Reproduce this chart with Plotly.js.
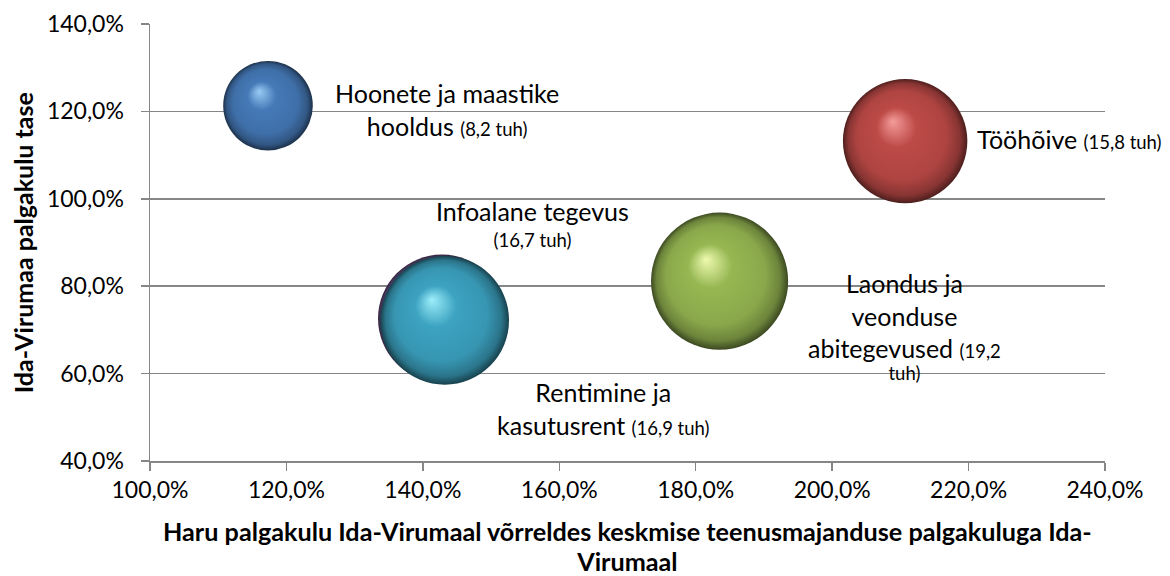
<!DOCTYPE html>
<html><head><meta charset="utf-8">
<script src="https://cdn.plot.ly/plotly-3.0.1.min.js"></script>
<style>html,body{margin:0;padding:0;background:#fff}#chart{width:1170px;height:576px}</style>
</head><body><div id="chart"></div>
<script>
// ---- data ----
const categories = ['Hoonete ja maastike hooldus', 'Tööhõive', 'Laondus ja veonduse abitegevused', 'Infoalane tegevus', 'Rentimine ja kasutusrent'];
const xValues = [117.3, 210.7, 183.5, 142.8, 143.2];   // % vs service-sector average wage cost
const yValues = [121.3, 113.2, 81.15, 72.6, 72.2];     // Ida-Virumaa wage cost level, %
const sizeValues = [8.2, 15.8, 19.2, 16.7, 16.9];      // thousands of employees (tuh)
const labelTemplates = [
  'Hoonete ja maastike<br>hooldus {s}',
  'Tööhõive {s}',
  'Laondus ja<br>veonduse<br>abitegevused {s}',
  'Infoalane tegevus<br>{s}',
  'Rentimine ja<br>kasutusrent {s}'
];
const sizeWrap = [false, false, true, false, false];
const yTitle = 'Ida-Virumaa palgakulu tase';
const xTitleLines = ['Haru palgakulu Ida-Virumaal võrreldes keskmise teenusmajanduse palgakuluga Ida-', 'Virumaal'];

// ---- styles ----
const baseColors = ['#4579B7', '#BD4A47', '#96B752', '#7D5FA0', '#3CA3C1'];
const highlightColors = ['#9ACBF5', '#F49C9A', '#EEFAB0', '#CDB6EC', '#9DEEFA'];
const labelOffsets = [[179, -4], [164, 2.5], [184.5, -50], [91, 92], [158.5, -88.5]];
const lastLineShift = [0, 0, -10.5, -7, 0];
const FONT = 'Lato, "Open Sans", sans-serif';
const gridCol = '#868686';
const BIG = 25, SMALL = 18.5, LABEL_BASE = 25;

function fmt(v) { return v.toFixed(1).replace('.', ','); }
function sizeLabel(i) {
  const n = fmt(sizeValues[i]);
  const sp = t => '<span style="font-size:' + SMALL + 'px">' + t + '</span>';
  if (sizeWrap[i]) return sp('(' + n) + '<br>' + sp('tuh)');
  return sp('(' + n + ' tuh)');
}
function labelText(i) {
  const parts = labelTemplates[i].split('{s}');
  const wrapBig = s => s.split('<br>').map(p => p ? '<span style="font-size:' + BIG + 'px">' + p + '</span>' : p).join('<br>');
  return wrapBig(parts[0]) + sizeLabel(i) + (parts[1] ? wrapBig(parts[1]) : '');
}

const trace = {
  type: 'scatter', mode: 'markers',
  x: xValues, y: yValues, text: categories,
  marker: {
    size: sizeValues, sizemode: 'area', sizeref: 1 / (2 * 15.65 * 15.65), opacity: 1,
    color: baseColors, line: {width: 0},
    gradient: {type: 'radial', color: highlightColors}
  },
  cliponaxis: false, hoverinfo: 'text'
};

const annotations = categories.map((c, i) => ({
  x: xValues[i], y: yValues[i], xref: 'x', yref: 'y',
  text: labelText(i), showarrow: false, align: 'center',
  xanchor: 'center', yanchor: 'middle',
  xshift: labelOffsets[i][0], yshift: labelOffsets[i][1],
  font: {family: FONT, size: LABEL_BASE, color: '#000'}
}));
// axis titles
annotations.push({
  xref: 'paper', yref: 'paper', x: 0.5, y: 0, xanchor: 'center', yanchor: 'middle',
  xshift: 0, yshift: -84.5, showarrow: false, align: 'center',
  text: xTitleLines.map(t => '<span style="font-size:25.2px">' + t + '</span>').join('<br>'),
  font: {family: FONT, size: 23.2, color: '#000', weight: 'bold'}
});
annotations.push({
  xref: 'paper', yref: 'paper', x: 0, y: 0.5, xanchor: 'center', yanchor: 'middle',
  xshift: -127.2, yshift: 0, showarrow: false, textangle: -90,
  text: yTitle, font: {family: FONT, size: 25, color: '#000', weight: 'bold'}
});

const layout = {
  width: 1170, height: 576,
  margin: {l: 150, r: 65, t: 24, b: 115},
  paper_bgcolor: '#fff', plot_bgcolor: '#fff',
  separators: ', ', showlegend: false,
  font: {family: FONT, color: '#000'},
  xaxis: {
    range: [100, 240], tick0: 100, dtick: 20, tickformat: '.1f', ticksuffix: '%',
    showgrid: false, zeroline: false, showline: true, linecolor: gridCol, linewidth: 1.5,
    ticks: 'outside', ticklen: 8, tickwidth: 1.5, tickcolor: gridCol,
    tickfont: {family: FONT, size: 23, color: '#000'}, ticklabelstandoff: 5.5
  },
  yaxis: {
    range: [40, 140], tick0: 40, dtick: 20, tickformat: '.1f', ticksuffix: '%',
    showgrid: true, gridcolor: gridCol, gridwidth: 1.5,
    zeroline: false, showline: true, linecolor: gridCol, linewidth: 1.5,
    ticks: 'outside', ticklen: 8, tickwidth: 1.5, tickcolor: gridCol,
    tickfont: {family: FONT, size: 23, color: '#000'}, ticklabelstandoff: 12
  },
  annotations: annotations
};

Plotly.newPlot('chart', [trace], layout, {staticPlot: true}).then(gd => {
  // sphere shading: offset highlight + darker rim
  gd.querySelectorAll('radialGradient').forEach(g => {
    const stops = g.querySelectorAll('stop');
    if (stops.length < 2) return;
    const hi = stops[0].getAttribute('stop-color');
    const base = stops[stops.length - 1].getAttribute('stop-color');
    const m = base.match(/[\d.]+/g).map(Number);
    const shade = f => 'rgb(' + m.slice(0, 3).map(v => Math.round(v * f)).join(',') + ')';
    g.setAttribute('fx', '0.4'); g.setAttribute('fy', '0.34');
    g.setAttribute('cx', '0.5'); g.setAttribute('cy', '0.5'); g.setAttribute('r', '0.5');
    while (g.firstChild) g.removeChild(g.firstChild);
    [[0, hi], [0.32, base], [0.72, shade(0.92)], [0.9, shade(0.72)], [1, shade(0.4)]].forEach(([o, c]) => {
      const s = document.createElementNS('http://www.w3.org/2000/svg', 'stop');
      s.setAttribute('offset', o); s.setAttribute('stop-color', c);
      g.appendChild(s);
    });
  });
  // tighter spacing for a final line that holds only the small "(… tuh)" text
  lastLineShift.forEach((sh, i) => {
    if (!sh) return;
    const t = gd.querySelector('.annotation[data-index="' + i + '"] .annotation-text');
    if (!t) return;
    const lines = t.querySelectorAll('tspan.line');
    if (lines.length < 2) return;
    const last = lines[lines.length - 1];
    const dyAttr = last.getAttribute('dy') || '0';
    const v = parseFloat(dyAttr);
    const px = /em$/.test(dyAttr) ? v * LABEL_BASE : v;
    last.setAttribute('dy', (px + sh) + 'px');
  });
});
</script>
</body></html>
